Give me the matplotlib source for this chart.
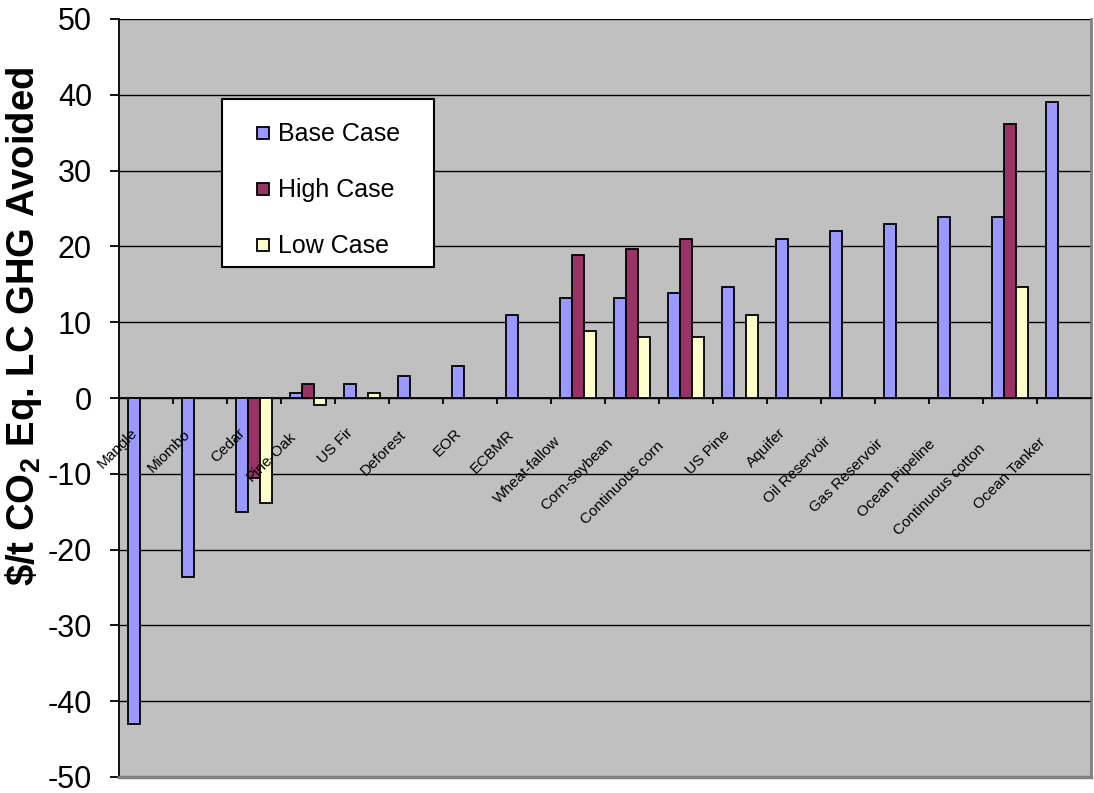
import numpy as np
import matplotlib
matplotlib.use("Agg")
import matplotlib.pyplot as plt
import matplotlib.transforms as mtransforms
from matplotlib.lines import Line2D
from matplotlib.patches import Rectangle
from matplotlib import font_manager

plt.rcParams['font.family'] = ['Liberation Sans', 'DejaVu Sans']
plt.rcParams['mathtext.fontset'] = 'custom'
plt.rcParams['mathtext.rm'] = 'Liberation Sans:bold'
plt.rcParams['mathtext.bf'] = 'Liberation Sans:bold'
plt.rcParams['axes.unicode_minus'] = False

# cost per tonne for each option, three scenarios (nan = no bar)
categories = ['Mangle', 'Miombo', 'Cedar', 'Pine-Oak', 'US Fir', 'Deforest', 'EOR',
              'ECBMR', 'Wheat-fallow', 'Corn-soybean', 'Continuous corn', 'US Pine',
              'Aquifer', 'Oil Reservoir', 'Gas Reservoir', 'Ocean Pipeline',
              'Continuous cotton', 'Ocean Tanker']
nan = np.nan
base_case = [-43.0, -23.6, -15.1, 0.7, 1.8, 2.9, 4.2, 11.0, 13.2, 13.2, 13.9, 14.7,
             21.0, 22.0, 23.0, 23.9, 23.9, 39.0]
high_case = [nan, nan, -10.6, 1.8, nan, nan, nan, nan, 18.9, 19.7, 21.0, nan,
             nan, nan, nan, nan, 36.1, nan]
low_case = [nan, nan, -13.8, -0.9, 0.7, nan, nan, nan, 8.9, 8.1, 8.1, 11.0,
            nan, nan, nan, nan, 14.7, nan]
series = ['Base Case', 'High Case', 'Low Case']
colors = ['#9999FF', '#993366', '#FFFFCC']

# narrow face for the slanted names if there is one
try:
    font_manager.findfont('Liberation Sans Narrow', fallback_to_default=False)
    name_font, name_size = 'Liberation Sans Narrow', 13.5
except ValueError:
    name_font, name_size = 'Liberation Sans', 11

fig = plt.figure(figsize=(10.94, 7.93), dpi=100)
ax = fig.add_axes([119 / 1094, 16 / 793, 972 / 1094, 758 / 793])
ax.set_facecolor('#C0C0C0')

x = np.arange(len(categories))
w = 0.22
kw = dict(edgecolor='black', linewidth=1.3, zorder=3)
for k, vals in enumerate([base_case, high_case, low_case]):
    ax.bar(x + (k - 1) * w, vals, w, color=colors[k], **kw)

ax.set_xlim(-0.5, len(categories) - 0.5)
ax.set_ylim(-50, 50)
ax.set_yticks(np.arange(-50, 51, 10))
ax.yaxis.grid(True, color='black', linewidth=1.0)
ax.set_axisbelow(True)
ax.tick_params(axis='y', labelsize=22, length=6.5, width=1.3, pad=13)

# category axis crosses at zero, ticks between groups
ax.spines['bottom'].set_position(('data', 0))
ax.spines['bottom'].set_linewidth(1.3)
ax.spines['left'].set_linewidth(1.3)
ax.spines['top'].set_visible(False)
ax.spines['right'].set_color('#808080')
ax.spines['right'].set_linewidth(2)
ax.axhline(-50, color='#808080', linewidth=2.5, clip_on=False, zorder=4)
ax.set_xticks(np.arange(0.5, len(categories) - 0.5, 1))
ax.set_xticklabels([])
ax.tick_params(axis='x', length=4, width=1.3, direction='out')

ax.set_ylabel(r'\$/t CO$_\mathbf{2}$ Eq. LC GHG Avoided', fontsize=27.5, fontweight='bold')
ax.yaxis.set_label_coords(-0.077, 0.594)

# legend: white box plus frameless entries
ax.add_patch(Rectangle((0.106, 0.673), 0.218, 0.222, transform=ax.transAxes,
                       facecolor='white', edgecolor='black', linewidth=1.5, zorder=6))
handles = [Line2D([], [], marker='s', linestyle='none', markersize=9,
                  markerfacecolor=c, markeredgecolor='black', markeredgewidth=1.3)
           for c in colors]
leg = ax.legend(handles, series, loc='upper left', bbox_to_anchor=(0.106, 0.895),
                fontsize=18, frameon=False, handlelength=1.4, handletextpad=-0.1,
                labelspacing=1.28, borderpad=0.95, borderaxespad=0)
leg.set_zorder(7)

# slanted category names; longer names sit further down their own slant
fig.canvas.draw()
renderer = fig.canvas.get_renderer()
for i, name in enumerate(categories):
    probe = ax.text(0, 0, name, fontsize=name_size, family=name_font)
    length = probe.get_window_extent(renderer).width
    probe.remove()
    shift = 0.3 * max(0.0, 0.707 * length - 35)
    ax.text(i, 0, name, rotation=45, rotation_mode='anchor', ha='right', va='top',
            fontsize=name_size, family=name_font, zorder=5,
            transform=mtransforms.offset_copy(ax.transData, fig=fig,
                                              x=-(16 + shift), y=-(28 + shift),
                                              units='dots'))

fig.savefig('out.png', dpi=100)
